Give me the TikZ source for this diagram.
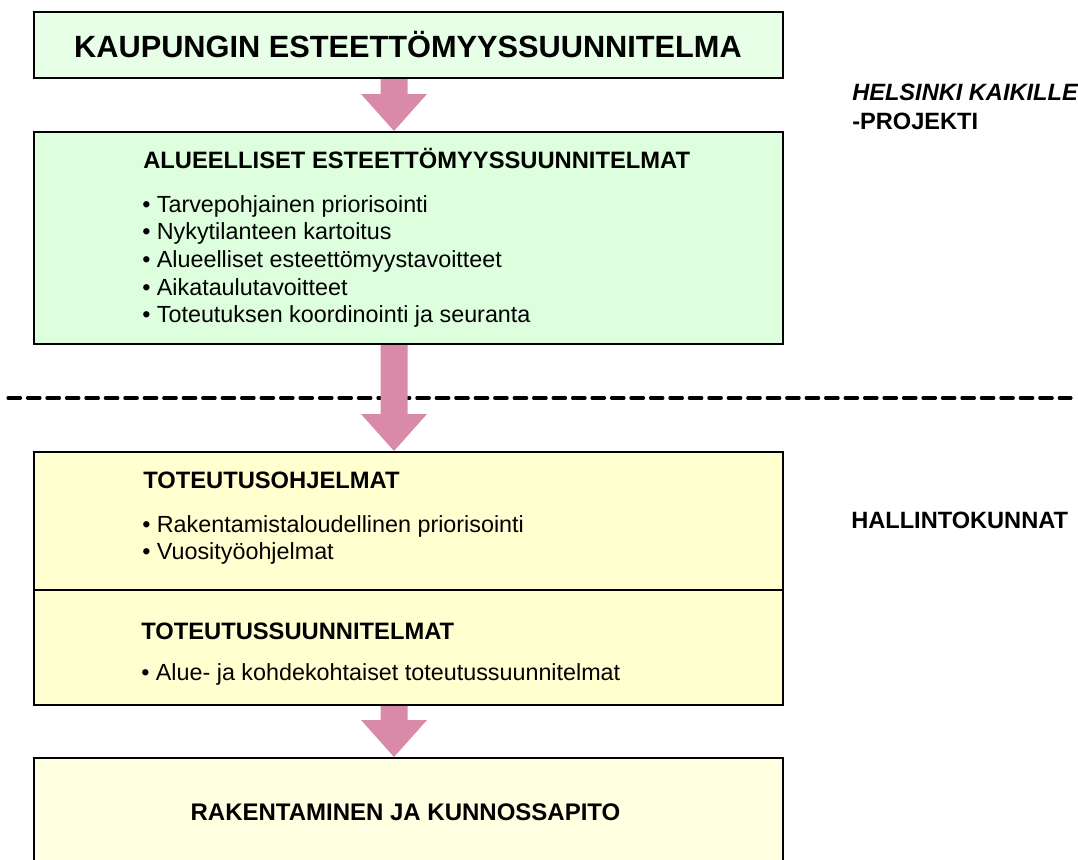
\documentclass[tikz,border=0pt]{standalone}
\usepackage{fontspec}
\setmainfont{Liberation Sans}
\usetikzlibrary{positioning,calc}
\definecolor{planGreen}{RGB}{230,255,230}
\definecolor{areaGreen}{RGB}{222,255,222}
\definecolor{progYellow}{RGB}{255,255,208}
\definecolor{buildYellow}{RGB}{255,255,226}
\definecolor{arrowPink}{RGB}{216,138,168}
\tikzset{%
   box/.style={draw=black, line width=1.5pt, inner sep=0pt, outer sep=0pt, minimum width=561.75pt},
   titletext/.style={inner sep=0pt, anchor=base, font=\bfseries\fontsize{23.05pt}{28pt}\selectfont},
   heading/.style={inner sep=0pt, anchor=base west, font=\bfseries\fontsize{17.8pt}{21pt}\selectfont},
   bulletitem/.style={inner sep=0pt, anchor=base west, font=\fontsize{17.5pt}{21pt}\selectfont},
   sidelabel/.style={inner sep=0pt, anchor=base west, font=\bfseries\fontsize{17.7pt}{21pt}\selectfont},
   sepline/.style={line width=2.3pt, line cap=round, dash pattern=on 9.4pt off 5.2pt},
}
\newcommand{\blockarrow}[2]{%
  \fill[arrowPink] ($(#1.south)+(-28,1)$) -- ($(#1.south)+(-1,1)$) -- ($(#2.north)+(-1,-38)$)
    -- ($(#2.north)+(18.5,-38)$) -- ($(#2.north)+(-14.5,-1)$) -- ($(#2.north)+(-47.5,-38)$)
    -- ($(#2.north)+(-28,-38)$) -- cycle;}

\begin{document}
\begin{tikzpicture}[x=0.75pt, y=-0.75pt]
  \clip (0,0) rectangle (1078,860);
  % boxes
  \node[box, fill=planGreen, minimum height=49.5pt] (plan) at (408.5,45) {};
  \node[box, fill=areaGreen, minimum height=159pt] (area) at (408.5,238) {};
  \node[box, fill=progYellow, minimum height=103.5pt] (prog) at (408.5,521) {};
  \node[box, fill=progYellow, minimum height=86.25pt] (impl) at (408.5,647.5) {};
  \node[box, fill=buildYellow, minimum height=81pt] (build) at (408.5,812) {};
  % texts
  \node[titletext] (planText) at (408,57) {KAUPUNGIN ESTEETTÖMYYSSUUNNITELMA};
  \node[heading] (areaHead) at (143,168) {ALUEELLISET ESTEETTÖMYYSSUUNNITELMAT};
  \foreach \txt [count=\i from 0] in {Tarvepohjainen priorisointi, Nykytilanteen kartoitus,
      Alueelliset esteettömyystavoitteet, Aikataulutavoitteet, Toteutuksen koordinointi ja seuranta}
    \node[bulletitem] (areaItem\i) at (142,{212+27.7*\i}) {\textbullet\ \txt};
  \node[heading] (progHead) at (143,488) {TOTEUTUSOHJELMAT};
  \foreach \txt [count=\i from 0] in {Rakentamistaloudellinen priorisointi, Vuosityöohjelmat}
    \node[bulletitem] (progItem\i) at (142,{532+27.7*\i}) {\textbullet\ \txt};
  \node[heading] (implHead) at (141,639) {TOTEUTUSSUUNNITELMAT};
  \node[bulletitem] (implItem) at (141,680) {\textbullet\ Alue- ja kohdekohtaiset toteutussuunnitelmat};
  \node[heading, anchor=base, font=\bfseries\fontsize{18pt}{21pt}\selectfont] (buildText) at (405.5,820) {RAKENTAMINEN JA KUNNOSSAPITO};
  % side labels
  \node[sidelabel] (hkTitle) at (852,100) {\itshape HELSINKI KAIKILLE};
  \node[sidelabel] (hkProj) at (852,129) {-PROJEKTI};
  \node[sidelabel] (hall) at (851,528) {HALLINTOKUNNAT};
  % dashed separator
  \coordinate (dashL) at (8,398);
  \coordinate (dashR) at (1071,398);
  \draw[sepline] (dashL) -- (dashR);
  % arrows
  \blockarrow{plan}{area}
  \blockarrow{area}{prog}
  \blockarrow{impl}{build}
\end{tikzpicture}
\end{document}
